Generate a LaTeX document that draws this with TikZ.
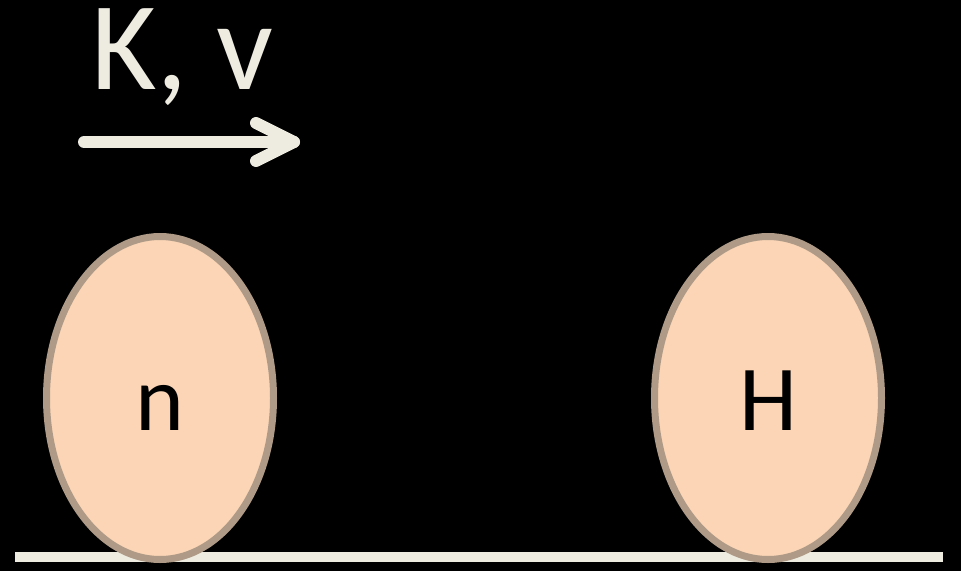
\documentclass[tikz,border=0pt]{standalone}
\usepackage{fontspec}
\setmainfont{Carlito}
\usetikzlibrary{shapes.geometric}
\definecolor{peach}{HTML}{FBD5B5}
\definecolor{rim}{HTML}{AE9A86}
\definecolor{chalk}{HTML}{EEECE1}
\tikzset{
  ball/.style={ellipse, draw=rim, fill=peach, line width=7pt, minimum width=227pt, minimum height=323pt, inner sep=0pt},
  lab/.style={anchor=base, inner sep=0pt, text=black, font=\fontsize{93}{93}\selectfont},
  chalkline/.style={draw=chalk, line width=12pt, line cap=round, line join=round},
}
\begin{document}
\begin{tikzpicture}[x=1pt,y=-1pt]
\fill[black] (0,0) rectangle (961,571);
\useasboundingbox (0,0) rectangle (961,571);
% ground
\coordinate (gl) at (15,557);
\coordinate (gr) at (943,557);
\draw[draw=chalk, line width=10pt] (gl) -- (gr);
% particles
\node[ball] (n) at (160,398) {};
\node[ball] (H) at (768,398) {};
\node[lab] (nl) at (160,430) {n};
\node[lab] (Hl) at (768,430) {H};
% label and arrow
\node[anchor=base west, inner sep=0pt, text height=80pt, text depth=18pt, text=chalk, font=\fontsize{126}{126}\selectfont] (kv) at (91,89) {K, v};
\coordinate (a0) at (84,142);
\coordinate (a1) at (294,142);
\coordinate (w1) at (256,123);
\coordinate (w2) at (256,161);
\draw[chalkline] (a0) -- (a1);
\draw[chalkline] (w1) -- (a1) -- (w2);
\end{tikzpicture}
\end{document}
